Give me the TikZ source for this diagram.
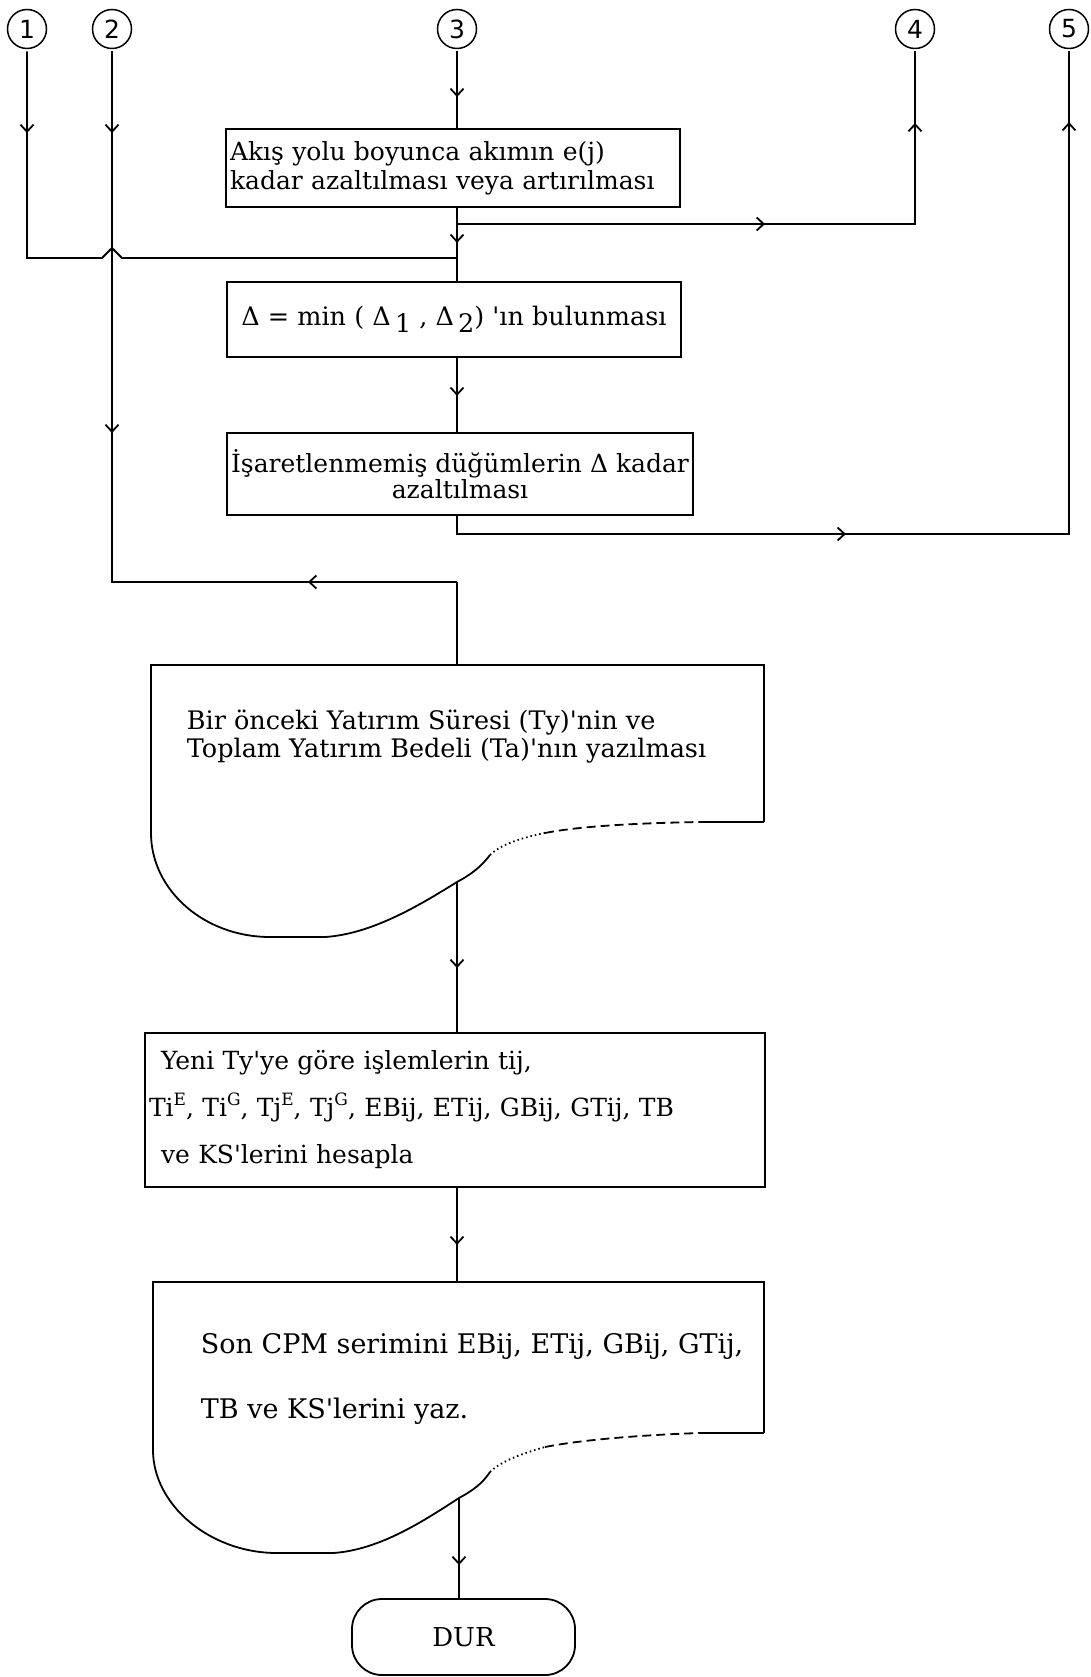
\documentclass[tikz,border=0pt]{standalone}
\usepackage{fontspec}
\setmainfont[Ligatures=TeXOff]{DejaVu Serif}
\newfontfamily\rakamfont{DejaVu Sans}
\usepackage{tikz}
\usetikzlibrary{arrows.meta,decorations.markings}
\tikzstyle{baglanti}=[circle, draw, line width=1.5pt, minimum size=39pt, inner sep=0pt, outer sep=3pt,
font=\rakamfont\fontsize{25}{25}\selectfont]
\tikzstyle{metin}=[font=\fontsize{25}{29}\selectfont]
\tikzstyle{kutu}=[draw, rectangle, line width=1.8pt, inner sep=4pt, metin]
\tikzstyle{belge}=[rectangle, inner sep=0pt, outer sep=0pt]
\tikzstyle{cizgi}=[line width=1.8pt]
\tikzset{ok/.style={postaction={decorate, decoration={markings,
  mark=at position #1 with {\arrow{Straight Barb[length=7pt,width=13pt]}}}}},
  tersok/.style={postaction={decorate, decoration={markings,
  mark=at position #1 with {\arrowreversed{Straight Barb[length=7pt,width=13pt]}}}}}}

\begin{document}
\begin{tikzpicture}[x=1pt, y=-1pt, cizgi]
\useasboundingbox (0,0) rectangle (1090,1677);

% baglanti noktalari
\node[baglanti] (b1) at (27,29) {1};
\node[baglanti] (b2) at (112,29) {2};
\node[baglanti] (b3) at (457,29) {3};
\node[baglanti] (b4) at (915,29) {4};
\node[baglanti] (b5) at (1069,29) {5};

% kutular
\node[kutu, minimum width=454pt, minimum height=78pt, text width=446pt, align=left] (akis) at (453,168)
  {Akış yolu boyunca akımın e(j)\\kadar azaltılması veya artırılması};
\node[kutu, minimum width=454pt, minimum height=75pt, font=\fontsize{25.5}{29}\selectfont] (delta) at (454,319.5)
  {Δ = min ( Δ\,\raisebox{-7pt}{1} , Δ\,\raisebox{-7pt}{2}) 'ın bulunması};
\node[kutu, minimum width=466pt, minimum height=82pt, align=center, font=\fontsize{25}{26}\selectfont] (isaret) at (460,474)
  {İşaretlenmemiş düğümlerin Δ kadar\\azaltılması};

\node[belge, minimum width=613pt, minimum height=157pt] (yazdir) at (457.5,743.5) {};
\node[anchor=west, align=left, inner sep=0pt, font=\fontsize{25.5}{28}\selectfont] (yazdirmetin) at (186,737)
  {Bir önceki Yatırım Süresi (Ty)'nin ve\\Toplam Yatırım Bedeli (Ta)'nın yazılması};

\node[kutu, minimum width=618pt, minimum height=154pt, text width=612pt, align=left, font=\fontsize{25}{47}\selectfont] (hesap) at (455,1110)
  {\hspace*{12pt}Yeni Ty'ye göre işlemlerin tij,\\
   Ti\raisebox{11pt}{\fontsize{17}{17}\selectfont E}, Ti\raisebox{11pt}{\fontsize{17}{17}\selectfont G}, Tj\raisebox{11pt}{\fontsize{17}{17}\selectfont E}, Tj\raisebox{11pt}{\fontsize{17}{17}\selectfont G}, EBij, ETij, GBij, GTij, TB\\
   \hspace*{12pt}ve KS'lerini hesapla};

\node[belge, minimum width=611pt, minimum height=151pt] (sonyaz) at (458.5,1357.5) {};
\node[anchor=west, align=left, inner sep=0pt, font=\fontsize{27}{65}\selectfont] (sonyazmetin) at (200,1379)
  {Son CPM serimini EBij, ETij, GBij, GTij,\\TB ve KS'lerini yaz.};

\node[kutu, rounded corners=30pt, minimum width=223pt, minimum height=76pt, font=\fontsize{26}{26}\selectfont] (dur) at (463.5,1637) {DUR};

% belge sekilleri
\draw (yazdir.south east) -- (yazdir.north east) -- (yazdir.north west) -- (151,833)
  .. controls (151,890) and (204,937) .. (270,937) -- (325,937)
  .. controls (372,934) and (420,905) .. (457,882) coordinate (yazdir-cikis)
  .. controls (470,875) and (480,868) .. (490,855);
\draw[dash pattern=on 1.5pt off 3pt] (490,855) .. controls (500,845) and (520,838) .. (545,833);
\draw[dash pattern=on 9pt off 5pt] (545,833) .. controls (580,826) and (640,823) .. (700,822);
\draw (700,822) -- (yazdir.south east);

\draw (sonyaz.south east) -- (sonyaz.north east) -- (sonyaz.north west) -- (153,1450)
  .. controls (153,1505) and (210,1553) .. (277,1553) -- (333,1553)
  .. controls (380,1550) and (425,1520) .. (459,1498) coordinate (sonyaz-cikis)
  .. controls (472,1491) and (482,1484) .. (490,1472);
\draw[dash pattern=on 1.5pt off 3pt] (490,1472) .. controls (500,1462) and (520,1454) .. (545,1447);
\draw[dash pattern=on 9pt off 5pt] (545,1447) .. controls (580,1440) and (640,1435) .. (700,1433);
\draw (700,1433) -- (sonyaz.south east);

% baglantilar
\coordinate (j4) at (457,224);
\coordinate (j1) at (457,258);
\coordinate (j2) at (457,582);
\coordinate (k5) at (1069,534);

\draw[ok=45.5pt] (b3) -- (akis.north -| b3);
\draw[ok=35pt] (akis.south -| b3) -- (delta.north -| b3);
\draw[ok=308pt, ok=559pt] (j4) -| (b4);
\draw[ok=81.5pt] (b1) -- (b1 |- j1) -- ++(75,0) -- ++(10,-10) -- ++(10,10) -- (j1);
\draw[ok=38pt] (delta.south -| b3) -- (isaret.north -| b3);
\draw[ok=407pt, ok=1042pt] (isaret.south -| b3) |- (k5) -- (b5);
\draw[ok=81.5pt, ok=381.5pt, tersok=726.5pt] (b2) -- (b2 |- j2) -- (j2);
\draw (j2) -- (yazdir.north -| j2);
\draw[ok=86pt] (yazdir-cikis) -- (hesap.north -| b3);
\draw[ok=57pt] (hesap.south -| b3) -- (sonyaz.north -| b3);
\draw[ok=67pt] (sonyaz-cikis) -- (dur.north -| sonyaz-cikis);

\end{tikzpicture}
\end{document}
